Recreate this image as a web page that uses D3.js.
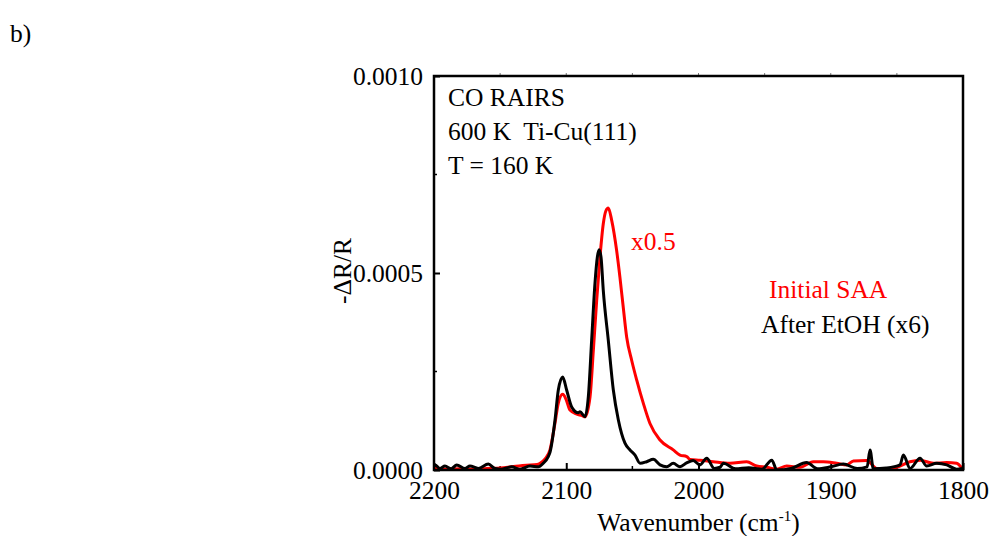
<!DOCTYPE html>
<html>
<head>
<meta charset="utf-8">
<script src="https://cdn.jsdelivr.net/npm/d3@7"></script>
<style>
  body { margin: 0; background: #fff; }
  svg text { font-family: "Liberation Serif", "Times New Roman", serif !important; }
</style>
</head>
<body>
<div id="chart"></div>
<script>
// x axis: wavenumber (cm-1), y axis: -dR/R
const xTicks = [2200, 2100, 2000, 1900, 1800];
const yTicks = [0, 0.0005, 0.0010];
const yTickLabels = ["0.0000", "0.0005", "0.0010"];

// Initial SAA (x0.5)
const saaWave = [2200, 2190, 2180, 2170, 2160, 2150, 2140, 2130, 2122, 2119.8, 2116, 2112.3, 2108.5, 2106, 2102.7,
  2100, 2097.2, 2092, 2088, 2085.8, 2082, 2079.5, 2077, 2074.5, 2072, 2070, 2068.2, 2065.6, 2061.9, 2059.4,
  2056.9, 2054.3, 2050.5, 2046.7, 2041.7, 2036.7, 2029.1, 2019.1, 2014, 2008.9, 2006.4, 1998.9, 1988.8, 1976.2,
  1963.6, 1956, 1948.4, 1940.9, 1933.3, 1923.3, 1913.2, 1905.6, 1895.5, 1887.9, 1882.9, 1872.8, 1865.3, 1857.7,
  1850.1, 1840.1, 1832.5, 1822.5, 1812.3, 1804.8, 1800];
const saaValue = [0.000004, 0.000002, 0.000003, 0.000002, 0.000004, 0.000005, 0.000009, 0.000012, 0.000014, 0.000017, 0.000028, 0.000051, 0.000119, 0.00017, 0.000192,
  0.000178, 0.000152, 0.000142, 0.000138, 0.000135, 0.000186, 0.000304, 0.00043, 0.00054, 0.000625, 0.000658, 0.000665, 0.000633, 0.000557, 0.000489,
  0.000413, 0.000337, 0.000278, 0.000228, 0.000169, 0.000118, 0.000076, 0.000051, 0.000038, 0.000034, 0.000027, 0.000025, 0.000021, 0.000017,
  0.000021, 0.00001, 0.000007, 0.000002, 0.00001, 0.000007, 0.000021, 0.000021, 0.000017, 0.000013, 0.000023, 0.000024, 0.000004, 0.000002,
  0.000007, 0.000021, 0.000025, 0.000017, 0.000019, 0.000017, 0.0];

// After EtOH (x6)
const etohWave = [2200, 2199.2, 2195.5, 2191.7, 2187, 2182.8, 2176.6, 2172.8, 2166.5, 2158.9, 2153.9, 2148.8, 2141.3, 2135, 2127.4,
  2121.1, 2117.4, 2113.6, 2112.3, 2108.5, 2106, 2102.7, 2099.7, 2095.9, 2090.9, 2089.6, 2085.8, 2083.3, 2080.8, 2078.3,
  2076.5, 2075.2, 2073.7, 2072, 2068.2, 2064.4, 2060.6, 2055.6, 2051.8, 2048, 2044.2, 2039.2, 2034.2, 2029.1, 2024.1,
  2019.1, 2014, 2009, 2004, 1998.9, 1993.8, 1988, 1983.7, 1981.2, 1972, 1962, 1952, 1944.6, 1940.8, 1930, 1918.2,
  1910, 1900, 1890.5, 1880, 1872.5, 1870.3, 1867.8, 1858, 1847.6, 1845.1, 1840, 1832.5, 1827.4, 1819.9, 1812.3,
  1804.8, 1800];
const etohValue = [0.000008, 0.000013, 0.000004, 0.00001, 0.000003, 0.000013, 0.000004, 0.00001, 0.000004, 0.000015, 0.000004, 0.000002, 0.000008, 0.000002, 0.00001,
  0.000008, 0.000017, 0.000034, 0.000045, 0.000127, 0.000203, 0.000236, 0.000203, 0.00016, 0.000145, 0.000148, 0.000135, 0.000186, 0.000329, 0.000473,
  0.00054, 0.000559, 0.00054, 0.000456, 0.000329, 0.000203, 0.000127, 0.000068, 0.000051, 0.000038, 0.000017, 0.000021, 0.000027, 0.000013, 0.000008,
  0.000017, 0.000008, 0.000018, 0.000024, 0.000013, 0.00003, 0.000004, 0.000007, 0.000017, 0.000003, 0.000006, 0.000002, 0.000025, 0.0, 0.000004, 0.000019,
  0.000003, 0.000008, 0.000015, 0.000004, 0.000008, 0.000051, 0.000003, 0.000005, 0.000013, 0.000038, 0.000004, 0.00003, 0.00001, 0.000017, 0.000013,
  0.000002, 0.000004];

const FONT = '"Liberation Serif", "Times New Roman", serif';

class SpectrumChart {
  constructor(_config) {
    this.config = {
      parentElement: _config.parentElement,
      containerWidth: _config.containerWidth || 991,
      containerHeight: _config.containerHeight || 536,
      margin: _config.margin || {top: 76, right: 28, bottom: 66, left: 434},
    }
    this.initVis();
  }

  initVis() {
    let vis = this;

    vis.width = vis.config.containerWidth - vis.config.margin.left - vis.config.margin.right;
    vis.height = vis.config.containerHeight - vis.config.margin.top - vis.config.margin.bottom;

    vis.svg = d3.select(vis.config.parentElement).append('svg')
      .attr('width', vis.config.containerWidth)
      .attr('height', vis.config.containerHeight)
      .attr('font-family', FONT);

    vis.g = vis.svg.append('g')
      .attr('transform', `translate(${vis.config.margin.left},${vis.config.margin.top})`);

    vis.xScale = d3.scaleLinear().domain([2200, 1800]).range([0, vis.width]);
    vis.yScale = d3.scaleLinear().domain([0, 0.0010]).range([vis.height, 0]);

    vis.renderVis();
  }

  renderVis() {
    let vis = this;
    const fs = 25.5;

    // panel label
    vis.svg.append('text')
      .attr('x', 10).attr('y', 42)
      .style('font-size', fs + 'px')
      .text('b)');

    // clip for curves
    vis.svg.append('defs').append('clipPath').attr('id', 'plot-clip')
      .append('rect').attr('x', 0).attr('y', 0).attr('width', vis.width).attr('height', vis.height);

    // bottom axis, ticks inside
    let xAxis = d3.axisBottom(vis.xScale)
      .tickValues(xTicks)
      .tickSizeInner(-7).tickSizeOuter(0)
      .tickPadding(11)
      .tickFormat(d3.format('d'));

    let xg = vis.g.append('g')
      .attr('class', 'x-axis')
      .attr('transform', `translate(0,${vis.height})`)
      .call(xAxis);
    xg.attr('font-family', FONT);
    xg.selectAll('text').style('font-size', fs + 'px').attr('fill', '#000');

    // minor x ticks
    let xMinor = d3.range(2150, 1800, -100);
    vis.g.selectAll('.x-minor').data(xMinor).join('line')
      .attr('class', 'x-minor')
      .attr('x1', d => vis.xScale(d)).attr('x2', d => vis.xScale(d))
      .attr('y1', vis.height).attr('y2', vis.height - 4)
      .attr('stroke', '#000').attr('stroke-width', 1.5);

    // top small ticks
    let xTop = d3.range(2150, 1800, -50);
    vis.g.selectAll('.x-top').data(xTop).join('line')
      .attr('class', 'x-top')
      .attr('x1', d => vis.xScale(d)).attr('x2', d => vis.xScale(d))
      .attr('y1', 0).attr('y2', -3)
      .attr('stroke', '#777').attr('stroke-width', 1);

    // left axis
    let yAxis = d3.axisLeft(vis.yScale)
      .tickValues(yTicks)
      .tickSizeInner(-6).tickSizeOuter(0)
      .tickPadding(11)
      .tickFormat((d, i) => yTickLabels[i]);

    let yg = vis.g.append('g')
      .attr('class', 'y-axis')
      .call(yAxis);
    yg.attr('font-family', FONT);
    yg.selectAll('text').style('font-size', fs + 'px').attr('fill', '#000');

    // minor y ticks
    vis.g.selectAll('.y-minor').data([0.00025, 0.00075]).join('line')
      .attr('class', 'y-minor')
      .attr('x1', 0).attr('x2', 3)
      .attr('y1', d => vis.yScale(d)).attr('y2', d => vis.yScale(d))
      .attr('stroke', '#000').attr('stroke-width', 1.5);

    vis.g.selectAll('.domain').remove();
    vis.g.selectAll('.tick line').attr('stroke', '#000').attr('stroke-width', 2);

    // curves
    let line = d3.line()
      .x(d => vis.xScale(d[0]))
      .y(d => vis.yScale(d[1]))
      .curve(d3.curveMonotoneX);

    let curves = vis.g.append('g').attr('clip-path', 'url(#plot-clip)');
    curves.append('path')
      .datum(d3.zip(saaWave, saaValue))
      .attr('fill', 'none').attr('stroke', '#ff0000').attr('stroke-width', 3)
      .attr('stroke-linejoin', 'round')
      .attr('d', line);
    curves.append('path')
      .datum(d3.zip(etohWave, etohValue))
      .attr('fill', 'none').attr('stroke', '#000').attr('stroke-width', 3)
      .attr('stroke-linejoin', 'round')
      .attr('d', line);

    // frame
    vis.g.append('rect')
      .attr('x', 0).attr('y', 0)
      .attr('width', vis.width).attr('height', vis.height)
      .attr('fill', 'none').attr('stroke', '#000').attr('stroke-width', 2.5);

    // axis labels
    let xl = vis.svg.append('text')
      .attr('x', vis.config.margin.left + vis.width / 2)
      .attr('y', 531)
      .attr('text-anchor', 'middle')
      .style('font-size', fs + 'px');
    xl.append('tspan').text('Wavenumber (cm');
    xl.append('tspan').attr('dy', -10).style('font-size', '15px').text('-1');
    xl.append('tspan').attr('dy', 10).text(')');

    vis.svg.append('text')
      .attr('transform', 'translate(351,271) rotate(-90)')
      .attr('text-anchor', 'middle')
      .style('font-size', fs + 'px')
      .text('-\u0394R/R');

    // annotations
    const notes = [
      {x: 448, y: 106, t: 'CO RAIRS', c: '#000'},
      {x: 448, y: 140, t: '600 K\u00a0 Ti-Cu(111)', c: '#000'},
      {x: 448, y: 174, t: 'T = 160 K', c: '#000'},
      {x: 631, y: 250, t: 'x0.5', c: '#ff0000'},
      {x: 769, y: 298, t: 'Initial SAA', c: '#ff0000'},
      {x: 761, y: 333, t: 'After EtOH (x6)', c: '#000'}
    ];
    vis.svg.selectAll('.note').data(notes).join('text')
      .attr('class', 'note')
      .attr('x', d => d.x).attr('y', d => d.y)
      .attr('fill', d => d.c)
      .style('font-size', fs + 'px')
      .text(d => d.t);
  }
}

new SpectrumChart({parentElement: '#chart'});
</script>
</body>
</html>
